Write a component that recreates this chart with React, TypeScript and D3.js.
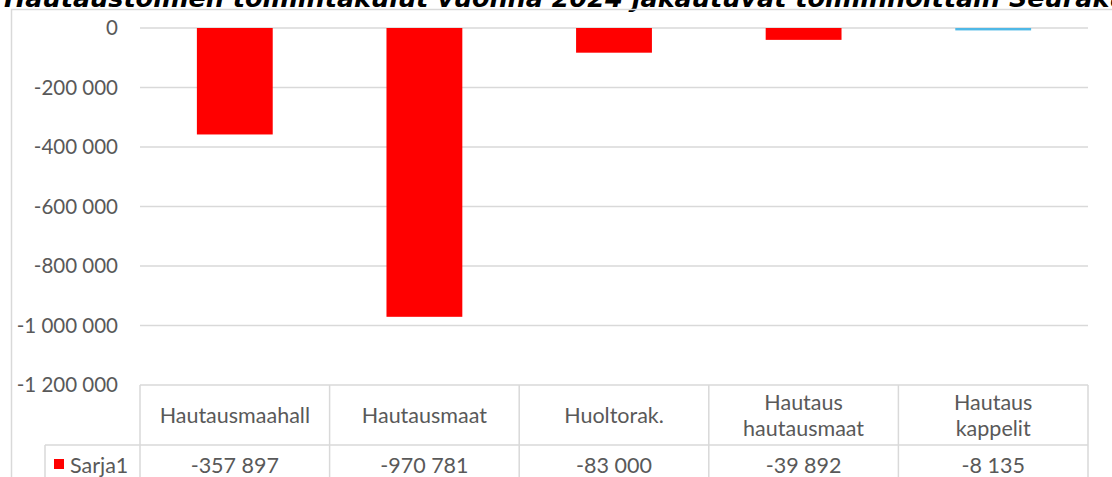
import { useEffect, useRef } from 'react';
import * as d3 from 'd3';

const title = 'Hautaustoimen toimintakulut vuonna 2024 jakautuvat toiminnoittain Seurakuntayhtymässä';
const categories = ['Hautausmaahall', 'Hautausmaat', 'Huoltorak.', 'Hautaus hautausmaat', 'Hautaus kappelit'];
const sarja1 = [-357897, -970781, -83000, -39892, -8135];
const seriesName = 'Sarja1';
const yTicks = [0, -200000, -400000, -600000, -800000, -1000000, -1200000];
const barFill = ['#ff0000', '#ff0000', '#ff0000', '#ff0000', '#4fb8e6'];

const W = 1112;
const H = 477;

export default function App() {
    const ref = useRef<SVGSVGElement>(null);

    useEffect(() => {
        if (!ref.current) return;
        const svg = d3.select(ref.current);
        svg.selectAll('*').remove();

        const fi = d3.formatLocale({ decimal: ',', thousands: ' ', grouping: [3], currency: ['', ' €'], minus: '-' });
        const fmt = fi.format(',d');

        const font = 'Lato, "Open Sans", sans-serif';
        const textCol = '#595959';
        const lineCol = '#d9d9d9';

        const x = d3.scaleBand<string>()
            .domain(categories)
            .range([140, 1088])
            .paddingInner(0.6)
            .paddingOuter(0.3);
        const y = d3.scaleLinear().domain([-1200000, 0]).range([385, 28]);

        // title, cut off by the top of the picture
        svg.append('text')
            .attr('x', 4)
            .attr('y', 7)
            .attr('font-family', '"DejaVu Sans", Verdana, sans-serif')
            .attr('font-weight', 'bold')
            .attr('font-style', 'italic')
            .attr('font-size', 25.5)
            .attr('fill', '#000')
            .text(title);

        // chart area border
        svg.append('rect')
            .attr('x', 11.5)
            .attr('y', 9.5)
            .attr('width', 1200)
            .attr('height', 600)
            .attr('fill', 'none')
            .attr('stroke', lineCol)
            .attr('stroke-width', 1.5);

        // gridlines + tick labels
        const grid = svg.append('g');
        grid.selectAll('line')
            .data(yTicks)
            .join('line')
            .attr('x1', 140)
            .attr('x2', 1088)
            .attr('y1', d => y(d))
            .attr('y2', d => y(d))
            .attr('stroke', lineCol)
            .attr('stroke-width', 1.5);
        grid.selectAll('text')
            .data(yTicks)
            .join('text')
            .attr('x', 118)
            .attr('y', d => y(d))
            .attr('dy', '0.35em')
            .attr('text-anchor', 'end')
            .attr('font-family', font)
            .attr('font-size', 20.5)
            .attr('fill', textCol)
            .text(d => fmt(d));

        // bars
        svg.append('g')
            .selectAll('rect')
            .data(sarja1)
            .join('rect')
            .attr('x', (_, i) => x(categories[i])!)
            .attr('width', x.bandwidth())
            .attr('y', y(0))
            .attr('height', d => Math.max(2, y(d) - y(0)))
            .attr('fill', (_, i) => barFill[i]);

        // data table
        const step = x.step();
        const left = x.range()[0];
        const right = x.range()[1];
        const rowTop = y(-1200000);
        const rowMid = rowTop + 60;
        const bottom = rowMid + 60;
        const tbl = svg.append('g').attr('stroke', lineCol).attr('stroke-width', 1.5);
        tbl.append('line').attr('x1', 45).attr('x2', right).attr('y1', rowMid).attr('y2', rowMid);
        tbl.append('line').attr('x1', 45).attr('x2', 45).attr('y1', rowMid).attr('y2', bottom);
        d3.range(categories.length + 1).forEach(i => {
            const cx = left + i * step;
            tbl.append('line').attr('x1', cx).attr('x2', cx).attr('y1', rowTop).attr('y2', bottom);
        });

        const cell = svg.append('g')
            .attr('font-family', font)
            .attr('font-size', 21.5)
            .attr('fill', textCol)
            .attr('text-anchor', 'middle');
        categories.forEach(c => {
            const cx = x(c)! + x.bandwidth() / 2;
            const words = c.split(' ');
            const t = cell.append('text').attr('x', cx);
            if (words.length === 1) {
                t.attr('y', rowTop + 30).attr('dy', '0.35em').text(c);
            } else {
                words.forEach((w, j) => {
                    t.append('tspan')
                        .attr('x', cx)
                        .attr('y', rowTop + 17 + j * 26)
                        .attr('dy', '0.35em')
                        .text(w);
                });
            }
        });
        sarja1.forEach((v, i) => {
            cell.append('text')
                .attr('x', x(categories[i])! + x.bandwidth() / 2)
                .attr('y', rowMid + 20)
                .attr('dy', '0.35em')
                .text(fmt(v));
        });

        // legend key in table
        svg.append('rect')
            .attr('x', 54)
            .attr('y', rowMid + 14)
            .attr('width', 10)
            .attr('height', 10)
            .attr('fill', barFill[0]);
        svg.append('text')
            .attr('x', 70)
            .attr('y', rowMid + 20)
            .attr('dy', '0.35em')
            .attr('font-family', font)
            .attr('font-size', 21.5)
            .attr('fill', textCol)
            .text(seriesName);
    }, []);

    return (
        <svg
            ref={ref}
            width={W}
            height={H}
            style={{ position: 'absolute', left: 0, top: 0, background: '#fff' }}
        />
    );
}
